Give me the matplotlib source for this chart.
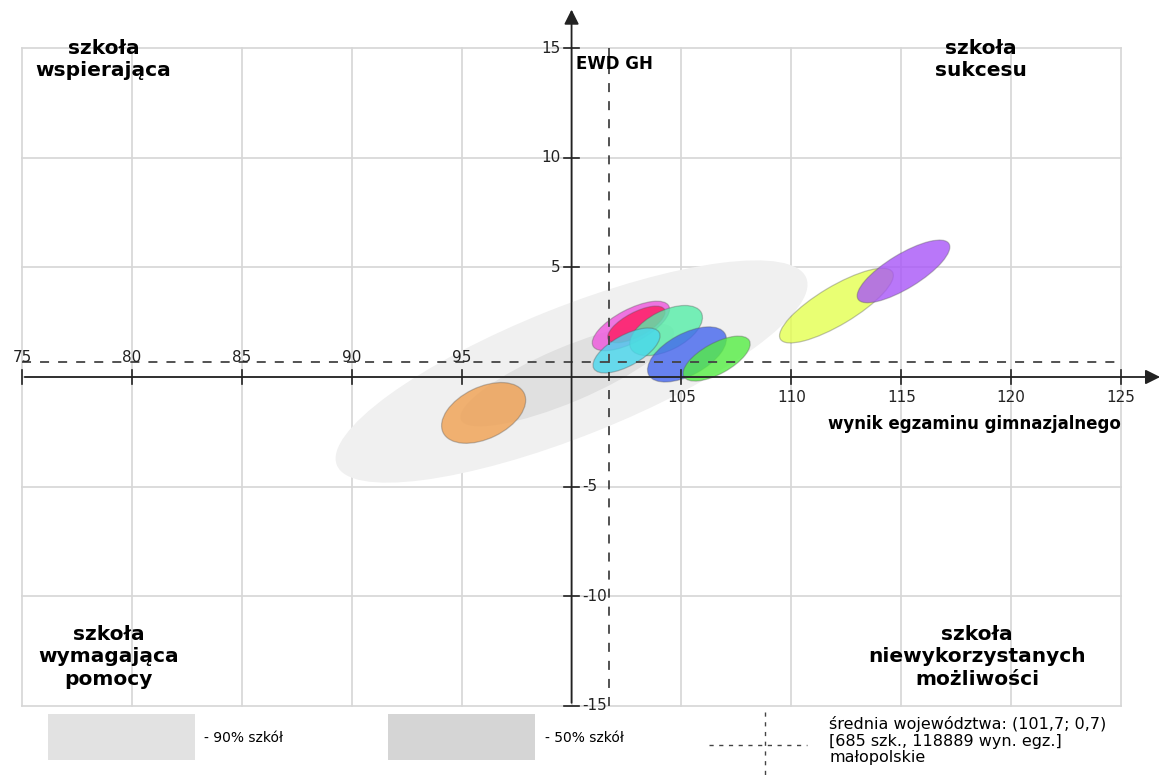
import matplotlib
matplotlib.use("Agg")
import matplotlib.pyplot as plt
from matplotlib.patches import Ellipse, Rectangle

# srednia wojewodztwa
mean_x = 101.7
mean_y = 0.7

# obszary 90% i 50% szkol: srodek x, srodek y, os dluga, os krotka, kat
area_names = ['90%', '50%']
area_cx = [100.0, 99.8]
area_cy = [0.25, 0.1]
area_w = [23.0, 10.5]
area_h = [5.9, 2.5]
area_ang = [21.8, 23.0]

# elipsy szkol
school_cx = [96.0, 102.7, 102.95, 104.3, 102.5, 105.25, 106.6, 112.05, 115.1]
school_cy = [-1.64, 2.33, 2.4, 2.12, 1.21, 1.03, 0.84, 3.26, 4.82]
school_w = [4.1, 3.9, 2.9, 3.6, 3.4, 3.95, 3.4, 5.95, 4.85]
school_h = [2.35, 1.5, 1.1, 1.8, 1.4, 1.9, 1.4, 1.75, 1.56]
school_ang = [26, 28, 28, 27, 29, 28.5, 29, 31, 31.5]

x_ticks = [75, 80, 85, 90, 95, 105, 110, 115, 120, 125]
y_ticks = [15, 10, 5, -5, -10, -15]

area_colors = ['#f0f0f0', '#e0e0e0']
school_colors = ['#f0a050', '#ee55dd', '#ff1c60', '#55eea8', '#48d8ee',
                 '#4466ee', '#55ee44', '#e4ff50', '#a855f8']

fig = plt.figure(figsize=(11.64, 7.77), dpi=100)
ax = fig.add_axes([0, 0, 1, 1])
ax.set_xlim(74, 126.95)
ax.set_ylim(-18.26, 17.21)
ax.axis('off')

# siatka
for x in range(75, 126, 5):
    ax.plot([x, x], [-15, 15], color='#d6d6d6', lw=1.2, zorder=1)
for y in range(-15, 16, 5):
    ax.plot([75, 125], [y, y], color='#d6d6d6', lw=1.2, zorder=1)

# obszary szare
for i in range(len(area_names)):
    ax.add_patch(Ellipse((area_cx[i], area_cy[i]), area_w[i], area_h[i],
                         angle=area_ang[i], facecolor=area_colors[i],
                         edgecolor='none', zorder=2))

# elipsy szkol
for i in range(len(school_cx)):
    ax.add_patch(Ellipse((school_cx[i], school_cy[i]), school_w[i], school_h[i],
                         angle=school_ang[i], facecolor=school_colors[i],
                         alpha=0.8, edgecolor='none', zorder=3))
    ax.add_patch(Ellipse((school_cx[i], school_cy[i]), school_w[i], school_h[i],
                         angle=school_ang[i], facecolor='none',
                         edgecolor='#555555', alpha=0.35, lw=0.9, zorder=3))

# osie ze strzalkami
ax.annotate('', xy=(126.9, 0), xytext=(75, 0),
            arrowprops=dict(arrowstyle='-|>', color='#222222', lw=1.3,
                            mutation_scale=22), zorder=5)
ax.annotate('', xy=(100, 16.9), xytext=(100, -15),
            arrowprops=dict(arrowstyle='-|>', color='#222222', lw=1.3,
                            mutation_scale=22), zorder=5)

# srednie - linie przerywane
ax.plot([75, 125], [mean_y, mean_y], color='#444444', lw=1.3,
        dashes=(5, 5), zorder=4)
ax.plot([mean_x, mean_x], [-15, 15], color='#444444', lw=1.3,
        dashes=(5, 5), zorder=4)

# podzialki
for x in x_ticks:
    ax.plot([x, x], [-0.33, 0.33], color='#222222', lw=1.2, zorder=5)
    if x < 100:
        ax.text(x, 0.55, str(x), ha='center', va='bottom', fontsize=11,
                color='#222222', zorder=6)
    else:
        ax.text(x, -0.6, str(x), ha='center', va='top', fontsize=11,
                color='#222222', zorder=6)
for y in y_ticks:
    ax.plot([99.67, 100.33], [y, y], color='#222222', lw=1.2, zorder=5)
    if y > 0:
        ax.text(99.5, y, str(y), ha='right', va='center', fontsize=11,
                color='#222222', zorder=6)
    else:
        ax.text(100.5, y, str(y), ha='left', va='center', fontsize=11,
                color='#222222', zorder=6)

ax.text(100.2, 14.3, 'EWD GH', ha='left', va='center', fontsize=12,
        fontweight='bold', zorder=6)
ax.text(125, -2.15, 'wynik egzaminu gimnazjalnego', ha='right', va='center',
        fontsize=12, fontweight='bold', zorder=6)

# opisy cwiartek
quad_kw = dict(fontsize=14.5, fontweight='bold', ha='center', va='top',
               linespacing=1.25, zorder=6)
ax.text(78.7, 15.45, 'szkoła\nwspierająca', **quad_kw)
ax.text(118.6, 15.45, 'szkoła\nsukcesu', **quad_kw)
ax.text(78.95, -11.3, 'szkoła\nwymagająca\npomocy', **quad_kw)
ax.text(118.45, -11.3, 'szkoła\nniewykorzystanych\nmożliwości', **quad_kw)

# legenda
ax.add_patch(Rectangle((76.18, -17.49), 6.68, 2.1, facecolor='#e2e2e2',
                       edgecolor='none', zorder=2))
ax.text(83.3, -16.5, '- 90% szkół', ha='left', va='center', fontsize=10)
ax.add_patch(Rectangle((91.64, -17.49), 6.68, 2.1, facecolor='#d5d5d5',
                       edgecolor='none', zorder=2))
ax.text(98.77, -16.5, '- 50% szkół', ha='left', va='center', fontsize=10)
ax.plot([106.27, 110.73], [-16.8, -16.8], color='#444444', lw=1.0, dashes=(3, 4))
ax.plot([108.8, 108.8], [-15.3, -18.17], color='#444444', lw=1.0, dashes=(3, 4))
ax.text(111.73, -16.6,
        'średnia województwa: (101,7; 0,7)\n[685 szk., 118889 wyn. egz.]\nmałopolskie',
        ha='left', va='center', fontsize=11.5, linespacing=1.1)

fig.savefig('out.png', dpi=100)
